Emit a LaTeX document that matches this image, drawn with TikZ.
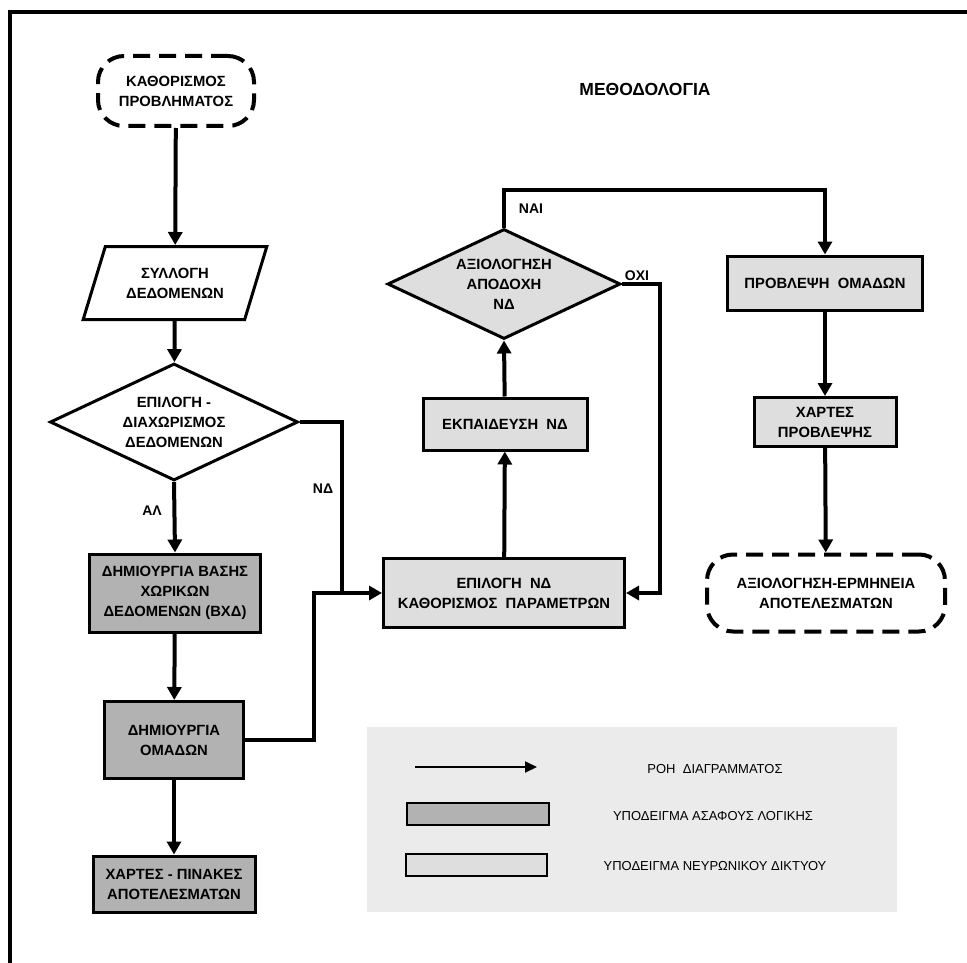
\documentclass[tikz,border=0pt]{standalone}
\usepackage{fontspec}
\setmainfont{Liberation Sans}
\usetikzlibrary{shapes.geometric,arrows.meta}
\definecolor{dkfill}{gray}{0.70}
\definecolor{ltfill}{gray}{0.87}
\definecolor{lgbg}{gray}{0.92}
\begin{document}
\begin{tikzpicture}[x=1pt,y=-1pt,
  every node/.style={font=\bfseries\fontsize{14.8}{20}\selectfont, align=center, inner sep=0pt},
  conn/.style={line width=4pt},
  arr/.style={conn, -{Triangle[length=13pt,width=14pt]}},
  dbox/.style={draw, line width=3pt, fill=dkfill},
  lbox/.style={draw, line width=3pt, fill=ltfill},
  term/.style={draw, line width=4pt, dash pattern=on 17pt off 9pt, rounded corners=26pt},
  dec/.style={draw, shape=diamond, aspect=2.12, line width=3pt},
  lbl/.style={font=\bfseries\fontsize{14}{16}\selectfont},
  lgtext/.style={font=\fontsize{13}{15}\selectfont}
]
\useasboundingbox (0,0) rectangle (967,963);
% frame
\draw[line width=4pt] (10,963) -- (10,12) -- (967,12);
% title
\node[font=\bfseries\fontsize{17.5}{20}\selectfont] (title) at (645,89) {ΜΕΘΟΔΟΛΟΓΙΑ};
% left column
\node[term, minimum width=156pt, minimum height=70pt] (start) at (176,91) {ΚΑΘΟΡΙΣΜΟΣ\\ΠΡΟΒΛΗΜΑΤΟΣ};
\node[draw, line width=3pt, shape=trapezium, trapezium left angle=63, trapezium right angle=117,
      trapezium stretches=true, minimum width=184pt, minimum height=73pt] (coll) at (175,283) {ΣΥΛΛΟΓΗ\\ΔΕΔΟΜΕΝΩΝ};
\node[dec, minimum width=248pt, minimum height=117pt] (sel) at (174,422) {ΕΠΙΛΟΓΗ -\\ΔΙΑΧΩΡΙΣΜΟΣ\\ΔΕΔΟΜΕΝΩΝ};
\node[dbox, minimum width=171pt, minimum height=78pt] (db) at (175,593) {ΔΗΜΙΟΥΡΓΙΑ ΒΑΣΗΣ\\ΧΩΡΙΚΩΝ\\ΔΕΔΟΜΕΝΩΝ (ΒΧΔ)};
\node[dbox, minimum width=139pt, minimum height=77pt] (grp) at (174,740) {ΔΗΜΙΟΥΡΓΙΑ\\ΟΜΑΔΩΝ};
\node[dbox, minimum width=162pt, minimum height=56pt] (maps) at (174,884) {ΧΑΡΤΕΣ - ΠΙΝΑΚΕΣ\\ΑΠΟΤΕΛΕΣΜΑΤΩΝ};
% middle column
\node[dec, fill=ltfill, minimum width=233pt, minimum height=110pt] (eval) at (504,284) {ΑΞΙΟΛΟΓΗΣΗ\\ΑΠΟΔΟΧΗ\\ΝΔ};
\node[lbox, minimum width=164pt, minimum height=52pt] (train) at (505,424) {ΕΚΠΑΙΔΕΥΣΗ\ \ ΝΔ};
\node[lbox, minimum width=241pt, minimum height=69pt] (epil) at (504,593) {ΕΠΙΛΟΓΗ\ \ ΝΔ\\ΚΑΘΟΡΙΣΜΟΣ\ \ ΠΑΡΑΜΕΤΡΩΝ};
% right column
\node[lbox, minimum width=195pt, minimum height=54pt] (pred) at (825,283) {ΠΡΟΒΛΕΨΗ\ \ ΟΜΑΔΩΝ};
\node[lbox, minimum width=142pt, minimum height=49pt] (pmaps) at (825,422) {ΧΑΡΤΕΣ\\ΠΡΟΒΛΕΨΗΣ};
\node[term, minimum width=238pt, minimum height=77pt] (end) at (826,593) {ΑΞΙΟΛΟΓΗΣΗ-ΕΡΜΗΝΕΙΑ\\ΑΠΟΤΕΛΕΣΜΑΤΩΝ};
% junction coordinates
\coordinate (jn) at (342,593);
\coordinate (cb) at (314,593);
\coordinate (tc) at (825,190);
\coordinate (oc) at (660,593);
% connectors
\draw[arr] (start) -- (coll);
\draw[arr] (coll) -- (sel);
\draw[arr] (sel.south) -- (db.north);
\draw[arr] (db) -- (grp);
\draw[arr] (grp) -- (maps);
\draw[arr] (sel.east) -| (jn) -- (epil.west);
\draw[conn] (grp.east) -| (cb) -- (jn);
\draw[arr] (epil) -- (train);
\draw[arr] (train) -- (eval.south);
\draw[arr] (eval.north) |- (tc) -- (pred.north);
\draw[arr] (eval.east) -| (oc) -- (epil.east);
\draw[arr] (pred) -- (pmaps);
\draw[arr] (pmaps) -- (end);
% labels
\node[lbl] (lal) at (152,511) {ΑΛ};
\node[lbl] (lnd) at (323,489) {ΝΔ};
\node[lbl] (lnai) at (531,209) {ΝΑΙ};
\node[lbl] (loxi) at (637,276) {ΟΧΙ};
% legend
\fill[lgbg] (367,727) rectangle (897,912);
\coordinate (la) at (415,767);
\coordinate (lb) at (537,767);
\draw[line width=2pt, -{Triangle[length=12pt,width=11pt]}] (la) -- (lb);
\draw[line width=2pt, fill=dkfill] (407,803) rectangle (549,825);
\draw[line width=2pt, fill=ltfill] (406,854) rectangle (547,876);
\node[lgtext] (lg1) at (715,769) {ΡΟΗ\ \ ΔΙΑΓΡΑΜΜΑΤΟΣ};
\node[lgtext] (lg2) at (713,816) {ΥΠΟΔΕΙΓΜΑ ΑΣΑΦΟΥΣ ΛΟΓΙΚΗΣ};
\node[lgtext] (lg3) at (715,866) {ΥΠΟΔΕΙΓΜΑ ΝΕΥΡΩΝΙΚΟΥ ΔΙΚΤΥΟΥ};
\end{tikzpicture}
\end{document}
